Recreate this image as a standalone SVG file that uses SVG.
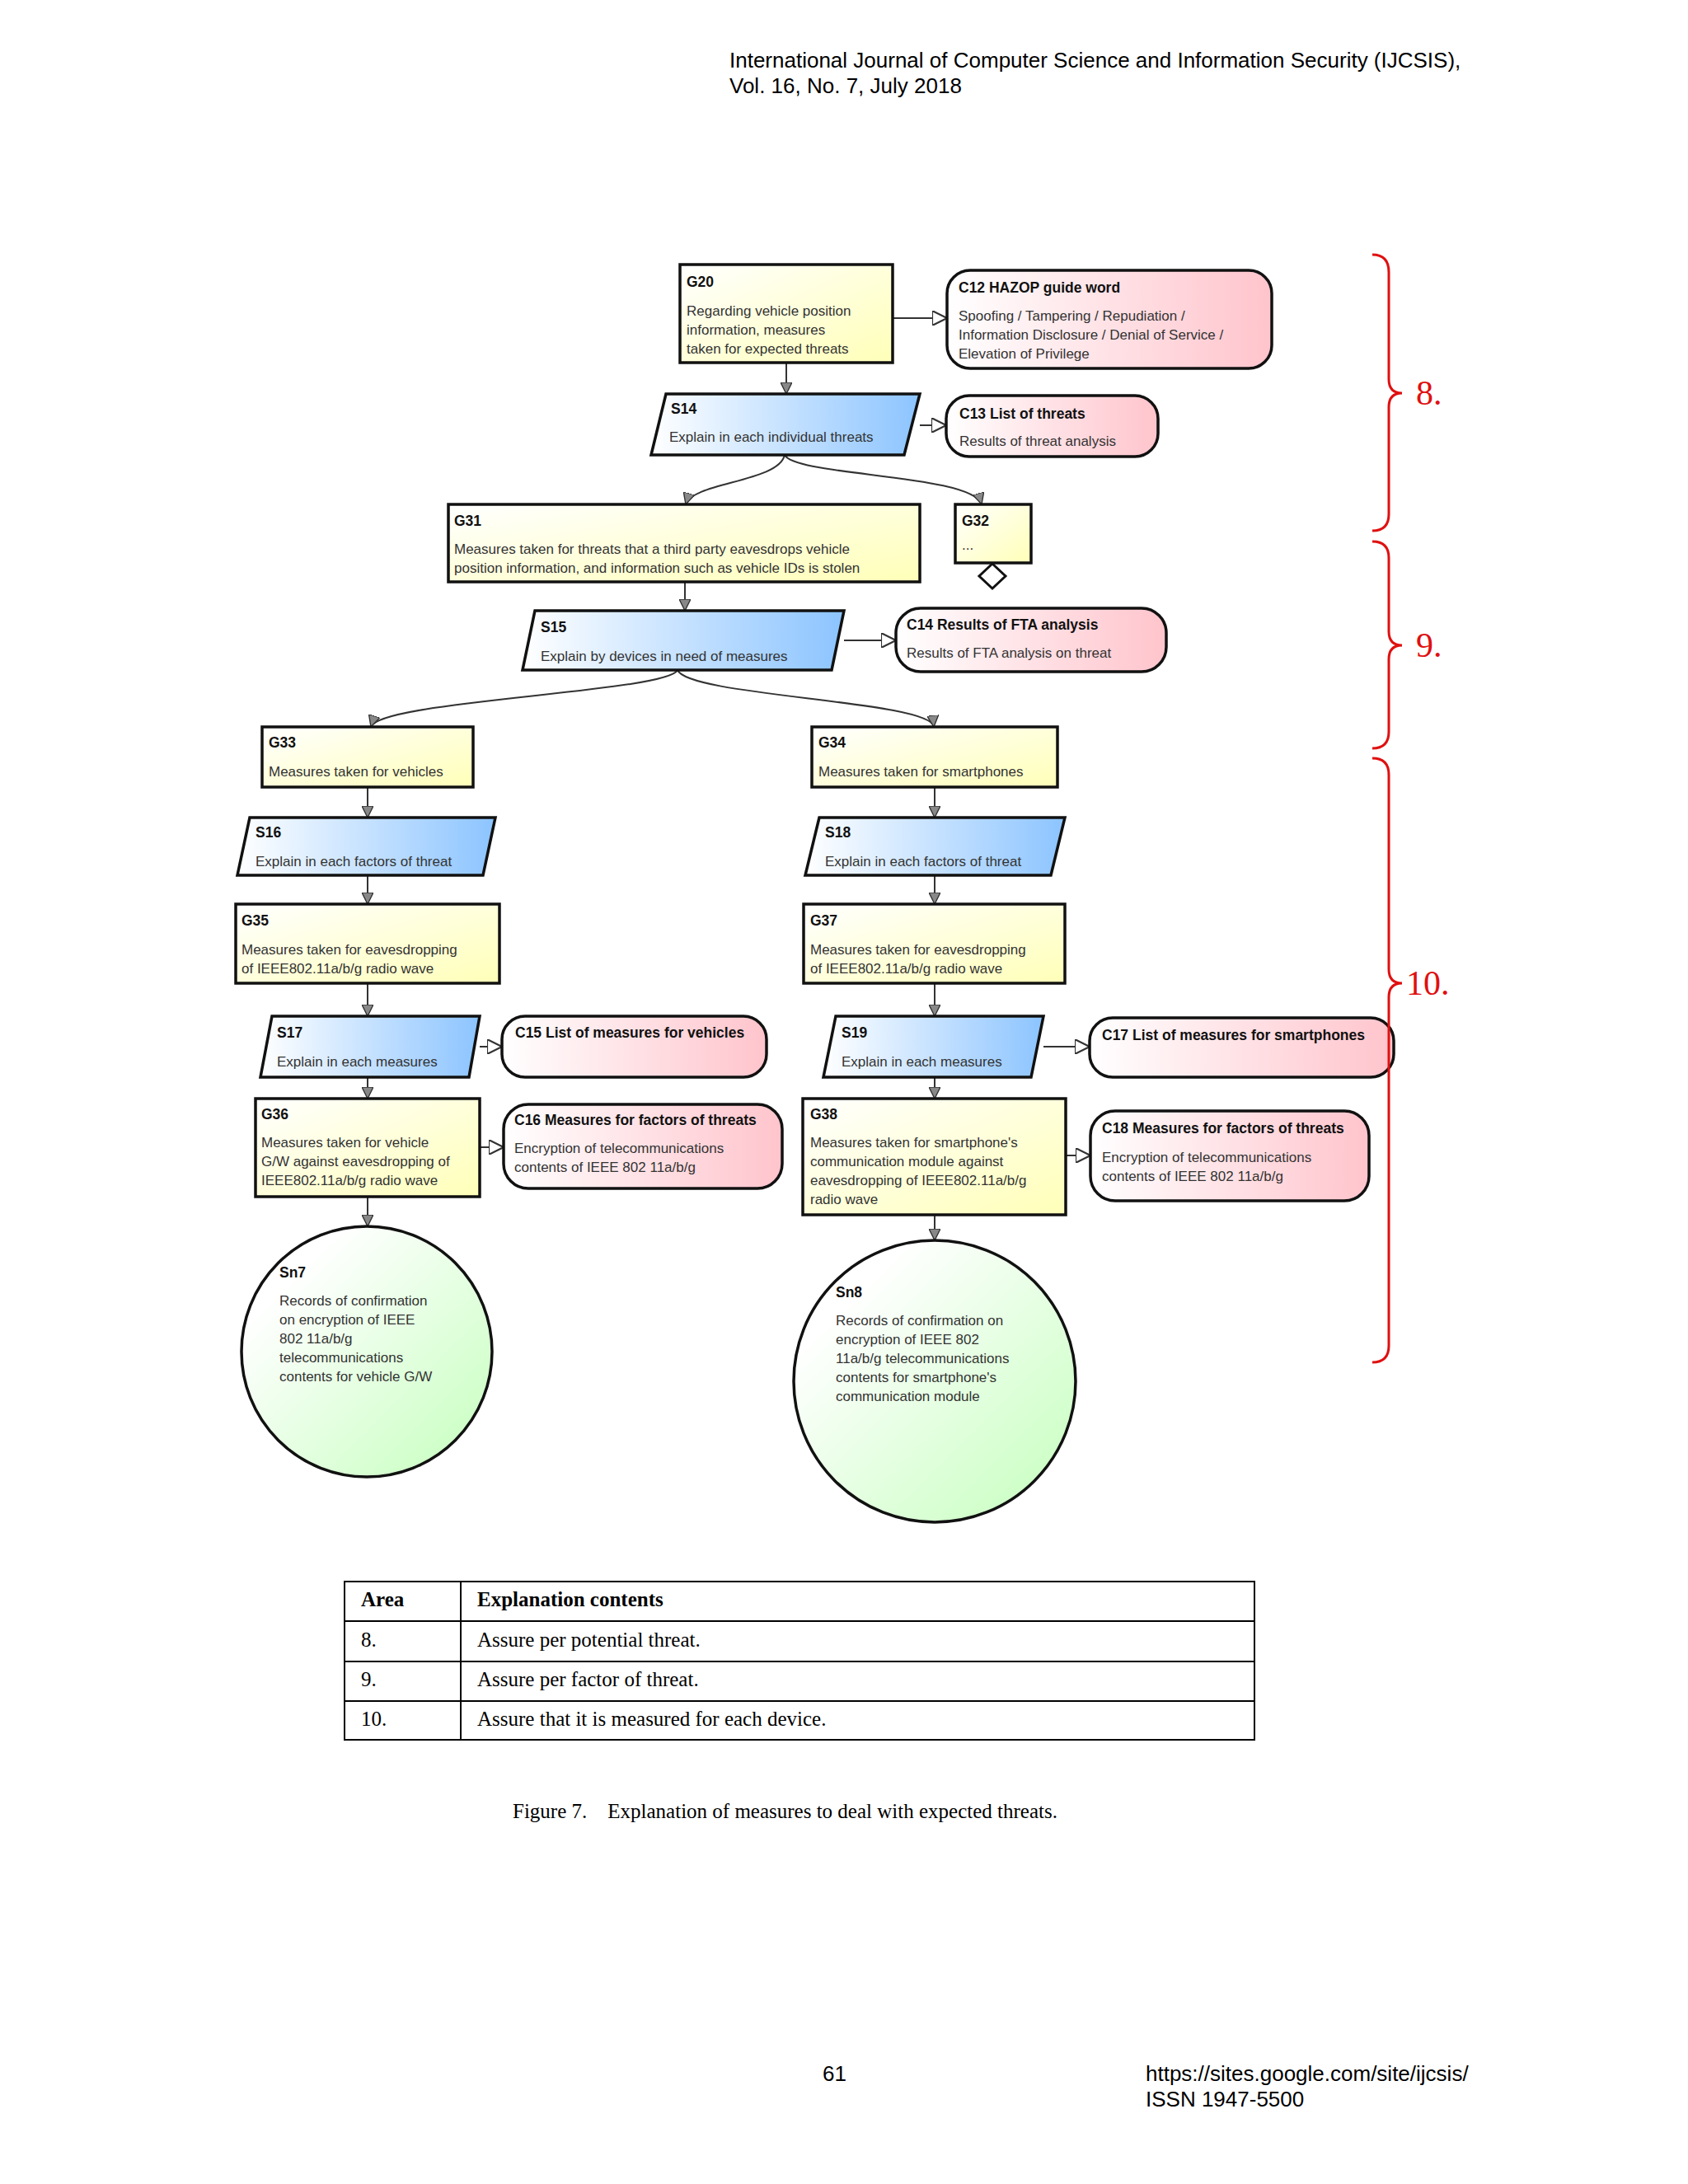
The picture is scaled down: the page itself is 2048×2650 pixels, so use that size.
<svg xmlns="http://www.w3.org/2000/svg" width="2048" height="2650" viewBox="0 0 2048 2650">
<defs>
<linearGradient id="gy" x1="0" y1="0" x2="1" y2="1"><stop offset="0" stop-color="#ffffff"/><stop offset="1" stop-color="#ffffb8"/></linearGradient>
<linearGradient id="gb" x1="0" y1="0" x2="1" y2="0"><stop offset="0" stop-color="#ffffff"/><stop offset="1" stop-color="#8cc4ff"/></linearGradient>
<linearGradient id="gp" x1="0" y1="0" x2="1" y2="0"><stop offset="0" stop-color="#ffffff"/><stop offset="1" stop-color="#ffc4cc"/></linearGradient>
<linearGradient id="gg" x1="0" y1="0" x2="1" y2="1"><stop offset="0.2" stop-color="#ffffff"/><stop offset="1" stop-color="#c4ffbc"/></linearGradient>
<marker id="af" viewBox="0 0 10 10" refX="10" refY="5" markerWidth="14" markerHeight="14" markerUnits="userSpaceOnUse" orient="auto"><path d="M0,0 L10,5 L0,10 Z" fill="#888" stroke="#333" stroke-width="1"/></marker>
<marker id="ah" viewBox="0 0 10 10" refX="10" refY="5" markerWidth="18" markerHeight="18" markerUnits="userSpaceOnUse" orient="auto"><path d="M0,0 L10,5 L0,10 Z" fill="#fff" stroke="#333" stroke-width="1.2"/></marker>
</defs>
<style>
.b{stroke:#111;stroke-width:3.5}
.y{fill:url(#gy)}.bl{fill:url(#gb)}.p{fill:url(#gp)}.g{fill:url(#gg)}
text{font-family:"Liberation Sans",Arial,sans-serif}
.t{font-size:17.5px;font-weight:bold;fill:#111}
.x{font-size:17px;fill:#333}
.c{fill:none;stroke:#333;stroke-width:2}
.r{fill:none;stroke:#e01010;stroke-width:3}
.rl{font-family:"Liberation Serif","Times New Roman",serif;font-size:42px;fill:#e01010}
.tb{font-family:"Liberation Serif","Times New Roman",serif;font-size:25px;fill:#000}
.h{font-size:26px;fill:#000}
</style>
<rect width="2048" height="2650" fill="#fff"/>
<text class="h" x="885" y="82">International Journal of Computer Science and Information Security (IJCSIS),</text>
<text class="h" x="885" y="113">Vol. 16, No. 7, July 2018</text>

<g id="connectors">
<path class="c" marker-end="url(#af)" d="M954,440 V478"/>
<path class="c" marker-end="url(#af)" d="M952,552 C945,585 840,585 832,612"/>
<path class="c" marker-end="url(#af)" d="M952,552 C965,578 1180,575 1191,612"/>
<path class="c" marker-end="url(#af)" d="M831,706 V741"/>
<path class="c" marker-end="url(#af)" d="M822,813 C810,840 460,850 450,882"/>
<path class="c" marker-end="url(#af)" d="M822,813 C835,845 1130,850 1133,882"/>
<path class="c" marker-end="url(#af)" d="M446,955 V992"/>
<path class="c" marker-end="url(#af)" d="M446,1062 V1097"/>
<path class="c" marker-end="url(#af)" d="M446,1193 V1233"/>
<path class="c" marker-end="url(#af)" d="M446,1307 V1333"/>
<path class="c" marker-end="url(#af)" d="M446,1452 V1488"/>
<path class="c" marker-end="url(#af)" d="M1134,955 V992"/>
<path class="c" marker-end="url(#af)" d="M1134,1062 V1097"/>
<path class="c" marker-end="url(#af)" d="M1134,1193 V1233"/>
<path class="c" marker-end="url(#af)" d="M1134,1307 V1333"/>
<path class="c" marker-end="url(#af)" d="M1134,1474 V1505"/>
<path class="c" marker-end="url(#ah)" d="M1083,386 H1149"/>
<path class="c" marker-end="url(#ah)" d="M1116,516 H1148"/>
<path class="c" marker-end="url(#ah)" d="M1024,777 H1087"/>
<path class="c" marker-end="url(#ah)" d="M582,1270 H609"/>
<path class="c" marker-end="url(#ah)" d="M1266,1270 H1322"/>
<path class="c" marker-end="url(#ah)" d="M582,1392 H611"/>
<path class="c" marker-end="url(#ah)" d="M1293,1402 H1323"/>
</g>

<g id="G20"><rect class="b y" x="825" y="321" width="258" height="119"/><text class="t" x="833" y="348">G20</text><text class="x" x="833" y="383">Regarding vehicle position</text><text class="x" x="833" y="406">information, measures</text><text class="x" x="833" y="429">taken for expected threats</text></g>
<g id="C12"><rect class="b p" x="1149" y="328" width="394" height="119" rx="28"/><text class="t" x="1163" y="355">C12 HAZOP guide word</text><text class="x" x="1163" y="389">Spoofing / Tampering / Repudiation /</text><text class="x" x="1163" y="412">Information Disclosure / Denial of Service /</text><text class="x" x="1163" y="435">Elevation of Privilege</text></g>
<g id="S14"><path class="b bl" d="M808,478 H1116 L1097,552 H790 Z"/><text class="t" x="814" y="502">S14</text><text class="x" x="812" y="536">Explain in each individual threats</text></g>
<g id="C13"><rect class="b p" x="1148" y="480" width="257" height="74" rx="28"/><text class="t" x="1164" y="508">C13 List of threats</text><text class="x" x="1164" y="541">Results of threat analysis</text></g>
<g id="G31"><rect class="b y" x="544" y="612" width="572" height="94"/><text class="t" x="551" y="638">G31</text><text class="x" x="551" y="672">Measures taken for threats that a third party eavesdrops vehicle</text><text class="x" x="551" y="695">position information, and information such as vehicle IDs is stolen</text></g>
<g id="G32"><rect class="b y" x="1159" y="612" width="92" height="71"/><text class="t" x="1167" y="638">G32</text><text class="x" x="1167" y="667">...</text><path d="M1204,684 L1220,699 L1204,714 L1188,699 Z" fill="#fff" stroke="#111" stroke-width="3"/></g>
<g id="S15"><path class="b bl" d="M649,741 H1024 L1009,813 H634 Z"/><text class="t" x="656" y="767">S15</text><text class="x" x="656" y="802">Explain by devices in need of measures</text></g>
<g id="C14"><rect class="b p" x="1087" y="738" width="328" height="77" rx="30"/><text class="t" x="1100" y="764">C14 Results of FTA analysis</text><text class="x" x="1100" y="798">Results of FTA analysis on threat</text></g>
<g id="G33"><rect class="b y" x="318" y="882" width="256" height="73"/><text class="t" x="326" y="907">G33</text><text class="x" x="326" y="942">Measures taken for vehicles</text></g>
<g id="G34"><rect class="b y" x="985" y="882" width="298" height="73"/><text class="t" x="993" y="907">G34</text><text class="x" x="993" y="942">Measures taken for smartphones</text></g>
<g id="S16"><path class="b bl" d="M303,992 H601 L586,1062 H288 Z"/><text class="t" x="310" y="1016">S16</text><text class="x" x="310" y="1051">Explain in each factors of threat</text></g>
<g id="S18"><path class="b bl" d="M994,992 H1292 L1275,1062 H977 Z"/><text class="t" x="1001" y="1016">S18</text><text class="x" x="1001" y="1051">Explain in each factors of threat</text></g>
<g id="G35"><rect class="b y" x="286" y="1097" width="320" height="96"/><text class="t" x="293" y="1123">G35</text><text class="x" x="293" y="1158">Measures taken for eavesdropping</text><text class="x" x="293" y="1181">of IEEE802.11a/b/g radio wave</text></g>
<g id="G37"><rect class="b y" x="975" y="1097" width="317" height="96"/><text class="t" x="983" y="1123">G37</text><text class="x" x="983" y="1158">Measures taken for eavesdropping</text><text class="x" x="983" y="1181">of IEEE802.11a/b/g radio wave</text></g>
<g id="S17"><path class="b bl" d="M330,1233 H582 L569,1307 H316 Z"/><text class="t" x="336" y="1259">S17</text><text class="x" x="336" y="1294">Explain in each measures</text></g>
<g id="C15"><rect class="b p" x="609" y="1233" width="321" height="74" rx="28"/><text class="t" x="625" y="1259">C15 List of measures for vehicles</text></g>
<g id="S19"><path class="b bl" d="M1014,1233 H1266 L1251,1307 H999 Z"/><text class="t" x="1021" y="1259">S19</text><text class="x" x="1021" y="1294">Explain in each measures</text></g>
<g id="C17"><rect class="b p" x="1322" y="1235" width="369" height="72" rx="28"/><text class="t" x="1337" y="1262">C17 List of measures for  smartphones</text></g>
<g id="G36"><rect class="b y" x="310" y="1333" width="272" height="119"/><text class="t" x="317" y="1358">G36</text><text class="x" x="317" y="1392">Measures taken for vehicle</text><text class="x" x="317" y="1415">G/W against eavesdropping of</text><text class="x" x="317" y="1438">IEEE802.11a/b/g radio wave</text></g>
<g id="C16"><rect class="b p" x="611" y="1340" width="338" height="102" rx="30"/><text class="t" x="624" y="1365">C16 Measures for factors of threats</text><text class="x" x="624" y="1399">Encryption of telecommunications</text><text class="x" x="624" y="1422">contents of IEEE 802 11a/b/g</text></g>
<g id="G38"><rect class="b y" x="974" y="1333" width="319" height="141"/><text class="t" x="983" y="1358">G38</text><text class="x" x="983" y="1392">Measures taken for smartphone's</text><text class="x" x="983" y="1415">communication module against</text><text class="x" x="983" y="1438">eavesdropping of IEEE802.11a/b/g</text><text class="x" x="983" y="1461">radio wave</text></g>
<g id="C18"><rect class="b p" x="1323" y="1348" width="338" height="109" rx="30"/><text class="t" x="1337" y="1375">C18 Measures for factors of threats</text><text class="x" x="1337" y="1410">Encryption of telecommunications</text><text class="x" x="1337" y="1433">contents of IEEE 802 11a/b/g</text></g>
<g id="Sn7"><circle class="b g" cx="445" cy="1640" r="152"/><text class="t" x="339" y="1550">Sn7</text><text class="x" x="339" y="1584">Records of confirmation</text><text class="x" x="339" y="1607">on encryption of IEEE</text><text class="x" x="339" y="1630">802 11a/b/g</text><text class="x" x="339" y="1653">telecommunications</text><text class="x" x="339" y="1676">contents for vehicle G/W</text></g>
<g id="Sn8"><circle class="b g" cx="1134" cy="1676" r="171"/><text class="t" x="1014" y="1574">Sn8</text><text class="x" x="1014" y="1608">Records of confirmation on</text><text class="x" x="1014" y="1631">encryption of IEEE 802</text><text class="x" x="1014" y="1654">11a/b/g telecommunications</text><text class="x" x="1014" y="1677">contents for smartphone's</text><text class="x" x="1014" y="1700">communication module</text></g>

<g id="braces">
<path class="r" d="M1665,309 Q1685,309 1685,330 V460 Q1685,477 1701,477 Q1685,477 1685,494 V624 Q1685,644 1665,644"/>
<path class="r" d="M1665,657 Q1685,657 1685,677 V766 Q1685,783 1701,783 Q1685,783 1685,800 V888 Q1685,908 1665,908"/>
<path class="r" d="M1665,920 Q1685,920 1685,940 V1176 Q1685,1193 1701,1193 Q1685,1193 1685,1210 V1633 Q1685,1653 1665,1653"/>
<text class="rl" x="1718" y="491">8.</text>
<text class="rl" x="1718" y="797">9.</text>
<text class="rl" x="1706" y="1207">10.</text>
</g>

<g id="table" fill="none" stroke="#000" stroke-width="2">
<rect x="418" y="1919" width="1104" height="192"/>
<line x1="418" y1="1967" x2="1522" y2="1967"/><line x1="418" y1="2016" x2="1522" y2="2016"/><line x1="418" y1="2064" x2="1522" y2="2064"/>
<line x1="559" y1="1919" x2="559" y2="2111"/>
</g>
<text class="tb" x="438" y="1949" font-weight="bold">Area</text>
<text class="tb" x="579" y="1949" font-weight="bold">Explanation contents</text>
<text class="tb" x="438" y="1998">8.</text><text class="tb" x="579" y="1998">Assure per potential threat.</text>
<text class="tb" x="438" y="2046">9.</text><text class="tb" x="579" y="2046">Assure per factor of threat.</text>
<text class="tb" x="438" y="2094">10.</text><text class="tb" x="579" y="2094">Assure that it is measured for each device.</text>
<text class="tb" x="622" y="2206" xml:space="preserve">Figure 7.    Explanation of measures to deal with expected threats.</text>
<text class="h" x="998" y="2525">61</text>
<text class="h" x="1390" y="2525">https://sites.google.com/site/ijcsis/</text>
<text class="h" x="1390" y="2556">ISSN 1947-5500</text>
</svg>
